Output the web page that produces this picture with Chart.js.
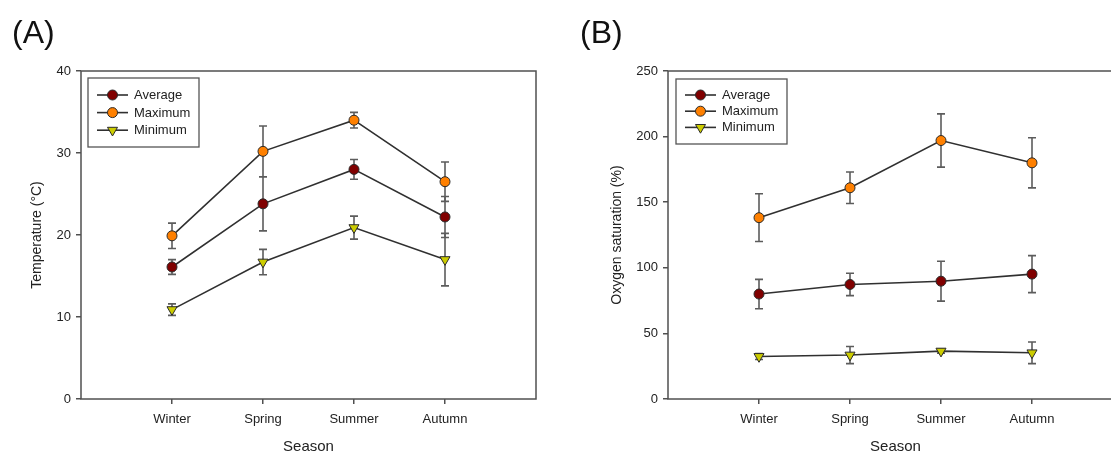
<!DOCTYPE html>
<html>
<head>
<meta charset="utf-8">
<title>Seasonal temperature and oxygen saturation</title>
<script src="https://cdn.jsdelivr.net/npm/chart.js@4.4.1/dist/chart.umd.min.js"></script>
<style>
  html, body { margin: 0; padding: 0; background: #fff; }
  #page { position: relative; width: 1111px; height: 451px; overflow: hidden; }
  .panel { position: absolute; top: 0; }
  #panelA { left: 0; }
  #panelB { left: 560px; }
  .tag { position: absolute; top: 16px; font: 32px "Liberation Sans", Arial, sans-serif; line-height: 1; color: #111; }
</style>
</head>
<body>
<div id="page">
  <div class="panel" id="panelA"><canvas id="chartA" width="560" height="470"></canvas></div>
  <div class="panel" id="panelB"><canvas id="chartB" width="563" height="470"></canvas></div>
  <div class="tag" style="left:12px">(A)</div>
  <div class="tag" style="left:580px">(B)</div>
</div>
<script>
// seasons along the x axis (placed at 1..4 on a 0..5 linear scale)
const seasons = ['Winter', 'Spring', 'Summer', 'Autumn'];
const seriesNames = ['Average', 'Maximum', 'Minimum'];

// water temperature, °C (mean ± sd)
const tempAverage   = [16.1, 23.8, 28.0, 22.2];
const tempAverageSd = [0.9, 3.3, 1.2, 2.5];
const tempMaximum   = [19.9, 30.2, 34.0, 26.5];
const tempMaximumSd = [1.55, 3.1, 0.95, 2.4];
const tempMinimum   = [10.9, 16.7, 20.9, 17.0];
const tempMinimumSd = [0.7, 1.55, 1.4, 3.2];
const tempTicks = [0, 10, 20, 30, 40];

// oxygen saturation, % (mean ± sd)
const oxyAverage   = [80.0, 87.3, 89.8, 95.2];
const oxyAverageSd = [11.2, 8.5, 15.2, 14.1];
const oxyMaximum   = [138.2, 161.0, 197.0, 180.0];
const oxyMaximumSd = [18.2, 12.0, 20.3, 19.1];
const oxyMinimum   = [32.4, 33.5, 36.5, 35.2];
const oxyMinimumSd = [2.3, 6.5, 1.5, 8.2];
const oxyTicks = [0, 50, 100, 150, 200, 250];

const FONT = '"Liberation Sans", Arial, sans-serif';
const TEXT = '#222';
const AXIS = '#505050';
const markerFill = ['#800000', '#ff8000', '#cccc00'];
const markerStyle = ['circle', 'circle', 'triangle'];
const markerRotation = [0, 0, 180];
const markerRadius = [5, 5, 5.8];

// sd whiskers with caps, drawn under the lines and symbols
const errorBars = {
  id: 'errorBars',
  beforeDatasetsDraw(chart) {
    const { ctx, scales: { x, y } } = chart;
    ctx.save();
    ctx.strokeStyle = '#5c5c5c';
    ctx.lineWidth = 1.6;
    chart.data.datasets.forEach(ds => {
      ds.data.forEach((p, i) => {
        const e = ds.errors[i];
        const px = x.getPixelForValue(p.x);
        const top = y.getPixelForValue(p.y + e);
        const bot = y.getPixelForValue(p.y - e);
        ctx.beginPath();
        ctx.moveTo(px, top); ctx.lineTo(px, bot);
        ctx.moveTo(px - 4, top); ctx.lineTo(px + 4, top);
        ctx.moveTo(px - 4, bot); ctx.lineTo(px + 4, bot);
        ctx.stroke();
      });
    });
    ctx.restore();
  }
};

// closed box around the plot area
const frame = {
  id: 'frame',
  beforeDatasetsDraw(chart) {
    const { ctx, chartArea: a } = chart;
    ctx.save();
    ctx.strokeStyle = AXIS;
    ctx.lineWidth = 1.5;
    ctx.strokeRect(a.left, a.top, a.right - a.left, a.bottom - a.top);
    ctx.restore();
  }
};

// boxed legend in the upper left corner of the plot
const boxLegend = {
  id: 'boxLegend',
  afterDatasetsDraw(chart, args, opts) {
    const { ctx, chartArea } = chart;
    const x0 = chartArea.left + opts.dx;
    const y0 = chartArea.top + opts.dy;
    ctx.save();
    ctx.strokeStyle = '#555';
    ctx.lineWidth = 1.3;
    ctx.strokeRect(x0, y0, opts.width, opts.height);
    ctx.font = '13px ' + FONT;
    ctx.textBaseline = 'middle';
    chart.data.datasets.forEach((ds, k) => {
      const cy = y0 + opts.firstRow + k * opts.rowGap;
      ctx.strokeStyle = ds.borderColor;
      ctx.lineWidth = ds.borderWidth;
      ctx.beginPath();
      ctx.moveTo(x0 + 9, cy); ctx.lineTo(x0 + 40, cy);
      ctx.stroke();
      ctx.fillStyle = ds.pointBackgroundColor;
      ctx.strokeStyle = ds.pointBorderColor;
      ctx.lineWidth = ds.pointBorderWidth;
      Chart.helpers.drawPoint(ctx, {
        pointStyle: ds.pointStyle, rotation: ds.pointRotation,
        radius: ds.pointRadius, borderWidth: ds.pointBorderWidth
      }, x0 + 24.5, cy);
      ctx.fillStyle = TEXT;
      ctx.fillText(ds.label, x0 + 46, cy + 0.5);
    });
    ctx.restore();
  }
};

function makePanel(canvasId, cfg) {
  const datasets = cfg.series.map((s, k) => ({
    label: seriesNames[k],
    data: s.values.map((v, i) => ({ x: i + 1, y: v })),
    errors: s.sd,
    borderColor: '#303030',
    borderWidth: 1.6,
    pointStyle: markerStyle[k],
    pointRotation: markerRotation[k],
    pointRadius: markerRadius[k],
    pointBackgroundColor: markerFill[k],
    pointBorderColor: '#2a2a2a',
    pointBorderWidth: 1
  }));

  return new Chart(document.getElementById(canvasId), {
    type: 'line',
    data: { datasets },
    plugins: [frame, errorBars, boxLegend],
    options: {
      responsive: false,
      animation: false,
      events: [],
      layout: { autoPadding: false, padding: { top: 71, right: cfg.rightPad, bottom: 0, left: 0 } },
      plugins: {
        legend: { display: false },
        tooltip: { enabled: false },
        boxLegend: cfg.legend
      },
      scales: {
        x: {
          type: 'linear', min: 0, max: 5,
          afterBuildTicks: s => { s.ticks = seasons.map((_, i) => ({ value: i + 1 })); },
          afterFit: s => { s.height = 71; },
          border: { display: false },
          grid: { drawOnChartArea: false, tickLength: 5, color: AXIS, lineWidth: 1.5 },
          ticks: {
            autoSkip: false, maxRotation: 0, padding: 8, color: TEXT,
            font: { family: FONT, size: 13 },
            callback: v => seasons[v - 1]
          },
          title: {
            display: true, text: 'Season', color: TEXT,
            font: { family: FONT, size: 15 },
            padding: { top: 0, bottom: 14 }
          }
        },
        y: {
          type: 'linear', min: 0, max: cfg.ticks[cfg.ticks.length - 1],
          afterBuildTicks: s => { s.ticks = cfg.ticks.map(v => ({ value: v })); },
          afterFit: s => { s.width = cfg.yAxisWidth; },
          border: { display: false },
          grid: { drawOnChartArea: false, tickLength: 5, color: AXIS, lineWidth: 1.5 },
          ticks: { padding: 5, color: TEXT, font: { family: FONT, size: 13 } },
          title: {
            display: true, text: cfg.yTitle, color: TEXT,
            font: { family: FONT, size: 14 },
            padding: { top: cfg.yTitlePad, bottom: 0 }
          }
        }
      }
    }
  });
}

makePanel('chartA', {
  series: [
    { values: tempAverage, sd: tempAverageSd },
    { values: tempMaximum, sd: tempMaximumSd },
    { values: tempMinimum, sd: tempMinimumSd }
  ],
  ticks: tempTicks,
  yTitle: 'Temperature (°C)',
  yAxisWidth: 81,
  yTitlePad: 28.6,
  rightPad: 24,
  legend: { dx: 7, dy: 7, width: 111, height: 69, firstRow: 17, rowGap: 17.6 }
});

makePanel('chartB', {
  series: [
    { values: oxyAverage, sd: oxyAverageSd },
    { values: oxyMaximum, sd: oxyMaximumSd },
    { values: oxyMinimum, sd: oxyMinimumSd }
  ],
  ticks: oxyTicks,
  yTitle: 'Oxygen saturation (%)',
  yAxisWidth: 108,
  yTitlePad: 48.3,
  rightPad: 0,
  legend: { dx: 8, dy: 8, width: 111, height: 65, firstRow: 16, rowGap: 16.2 }
});
</script>
</body>
</html>
